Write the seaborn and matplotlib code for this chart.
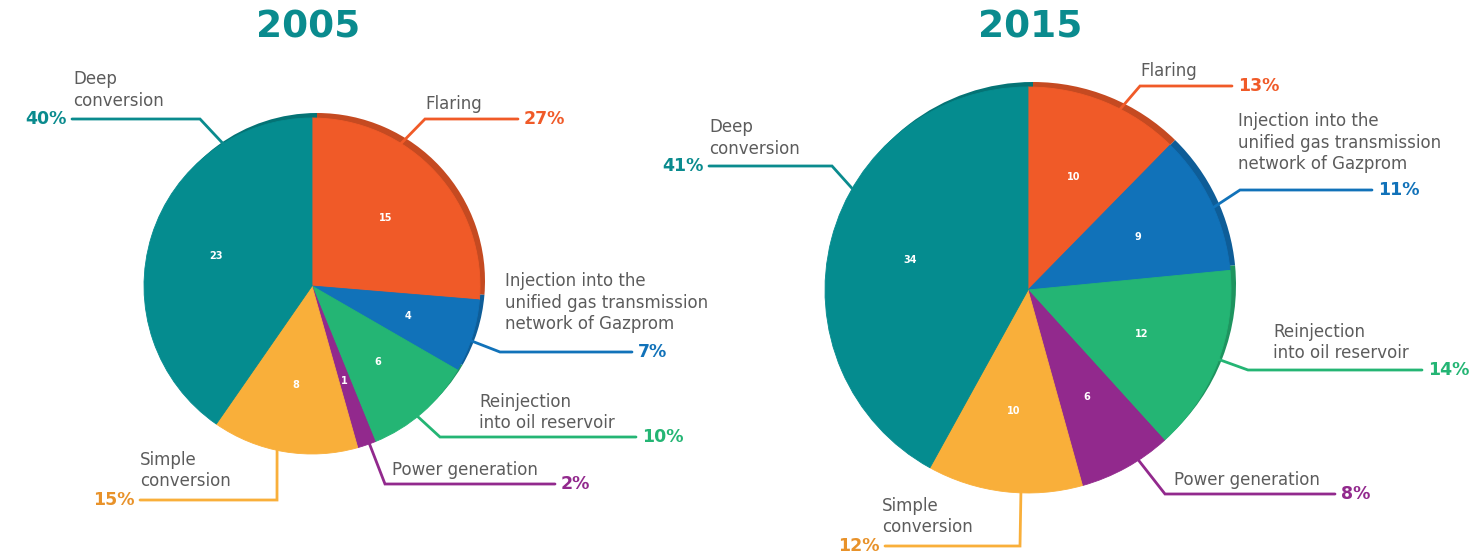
import numpy as np
import matplotlib.pyplot as plt
import seaborn as sns
from matplotlib.colors import to_rgb

# data
categories = ["Flaring", "Injection into the\nunified gas transmission\nnetwork of Gazprom",
              "Reinjection\ninto oil reservoir", "Power generation", "Simple\nconversion",
              "Deep\nconversion"]
values_2005 = [15, 4, 6, 1, 8, 23]
values_2015 = [10, 9, 12, 6, 10, 34]
pct_2005 = ["27%", "7%", "10%", "2%", "15%", "40%"]
pct_2015 = ["13%", "11%", "14%", "8%", "12%", "41%"]
years = ["2005", "2015"]

colors = ["#F05A28", "#1172B9", "#24B574", "#92298D", "#F9AF3A", "#058C8F"]
pct_colors = ["#F05A28", "#1172B9", "#24B574", "#92298D", "#E8922A", "#0A8B8E"]
TEAL = "#0A8B8E"
GRAY = "#5C5C5C"

sns.set_theme(style="white")
plt.rcParams["font.family"] = ["DejaVu Sans"]

W, H = 1483, 555
fig = plt.figure(figsize=(W / 100, H / 100), dpi=100)
ax = fig.add_axes([0, 0, 1, 1])


def Y(v):
    return H - v


def darker(c, f=0.82):
    r, g, b = to_rgb(c)
    return (r * f, g * f, b * f)


# layout: pie centre/radius, leader anchors (angle on rim), elbow, line end, label positions
pies = [
    dict(center=(312, 286), radius=168, title_x=308,
         anchors=[58, -19, -51, -70, -102, 122],
         elbow=[(425, 119), (500, 352), (440, 437), (385, 484), (277, 500), (200, 119)],
         end=[518, 632, 636, 555, 140, 72],
         text=[(425, 95), (505, 272), (479, 393), (392, 461), (140, 451), (73, 70)]),
    dict(center=(1028, 290), radius=203, title_x=1030,
         anchors=[63, 24, -20, -57, -92, 150],
         elbow=[(1140, 86), (1240, 190), (1248, 370), (1165, 494), (1020, 546), (832, 166)],
         end=[1232, 1372, 1422, 1335, 885, 709],
         text=[(1140, 62), (1238, 112), (1273, 323), (1174, 471), (882, 497), (709, 118)]),
]

for year, vals, pcts, lay in zip(years, [values_2005, values_2015], [pct_2005, pct_2015], pies):
    cx, cy = lay["center"]
    R = lay["radius"]
    # darker rim (shifted copy behind)
    ax.pie(vals, colors=[darker(c) for c in colors], startangle=90, counterclock=False,
           center=(cx + 5, Y(cy) + 5), radius=R, wedgeprops=dict(linewidth=0), frame=True)
    wedges, _, autotexts = ax.pie(
        vals, colors=colors, startangle=90, counterclock=False,
        center=(cx, Y(cy)), radius=R, wedgeprops=dict(linewidth=0.6),
        autopct=lambda p, v=vals: f"{round(p * sum(v) / 100):d}", pctdistance=0.6,
        textprops=dict(color="white", fontsize=7, fontweight="bold"), frame=True)
    for w, c in zip(wedges, colors):
        w.set_edgecolor(c)

    ax.text(lay["title_x"], Y(28), year, ha="center", va="center", fontsize=27,
            fontweight="bold", color=TEAL)

    for i in range(len(vals)):
        a = np.deg2rad(lay["anchors"][i])
        x0, y0 = cx + R * np.cos(a), Y(cy) + R * np.sin(a)
        ex, ey = lay["elbow"][i]
        xe = lay["end"][i]
        ax.plot([x0, ex, xe], [y0, Y(ey), Y(ey)], color=pct_colors[i] if i != 4 else "#F9AF3A",
                lw=2, solid_joinstyle="miter", zorder=1)
        if xe > ex:
            ax.text(xe + 6, Y(ey), pcts[i], ha="left", va="center", fontsize=12.5,
                    fontweight="bold", color=pct_colors[i])
        else:
            ax.text(xe - 5, Y(ey), pcts[i], ha="right", va="center", fontsize=12.5,
                    fontweight="bold", color=pct_colors[i])
        tx, ty = lay["text"][i]
        ax.text(tx, Y(ty), categories[i], ha="left", va="top", fontsize=12, color=GRAY,
                linespacing=1.25)

ax.set_xlim(0, W)
ax.set_ylim(0, H)
ax.set_aspect("equal")
ax.axis("off")
fig.savefig("out.png", dpi=100, facecolor="white")
